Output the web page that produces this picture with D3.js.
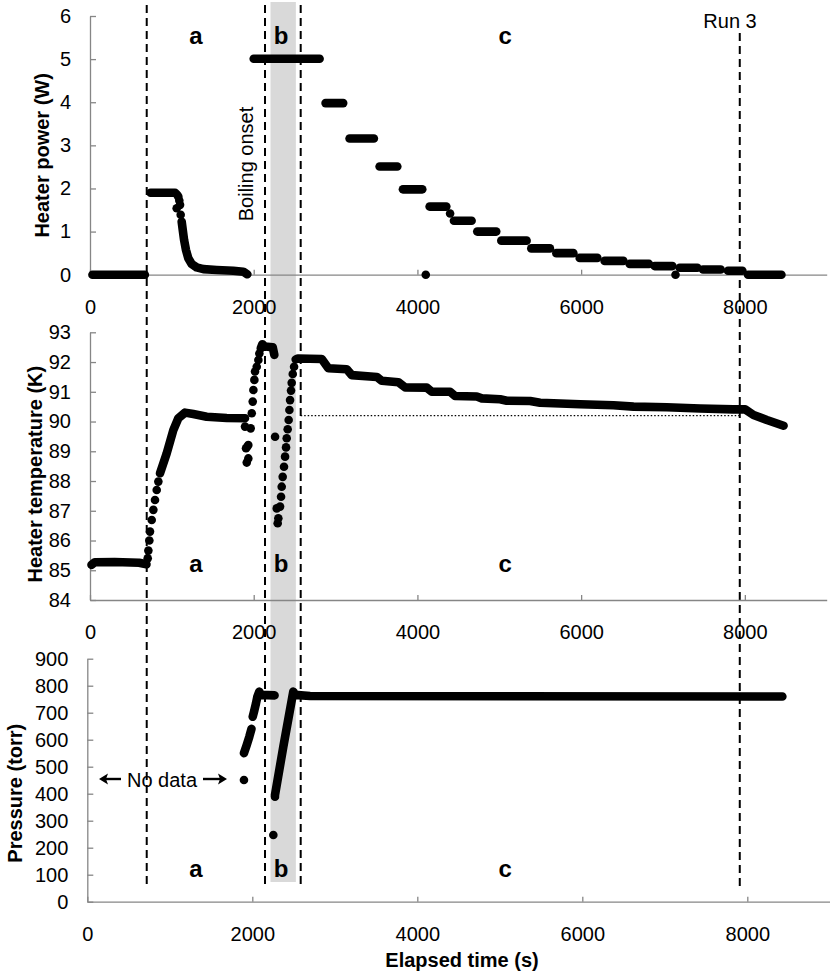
<!DOCTYPE html>
<html>
<head>
<meta charset="utf-8">
<script src="https://cdn.jsdelivr.net/npm/d3@7"></script>
<style>
  body { margin: 0; background: #fff; }
  text { font-family: "Liberation Sans", Arial, sans-serif; }
  .axis .domain, .axis .tick line { stroke: #868686; stroke-width: 1.3; }
  .axis text { fill: #000; font-size: 20px; font-family: "Liberation Sans", Arial, sans-serif; }
</style>
</head>
<body>
<div id="chart"></div>
<script>
// ---- data ----
const timeTicks = [0, 2000, 4000, 6000, 8000]
const powerTicks = [0, 1, 2, 3, 4, 5, 6]
const tempTicks = [84, 85, 86, 87, 88, 89, 90, 91, 92, 93]
const pressTicks = [0, 100, 200, 300, 400, 500, 600, 700, 800, 900]

// phase boundaries (s): heater on, boiling onset, end of boiling, end of run 3
const phaseBounds = [693, 2138, 2574, 7938]
const boilBand = [2205, 2515]
const phaseLabels = [
  { text: 'a', t: 1295 },
  { text: 'b', t: 2334 },
  { text: 'c', t: 5071 }
]
const refTemp = 90.2

// heater power (W): dense stretches drawn as runs, loose samples as dots
const powerRuns = [
  [[30, 0], [670, 0]],
  [[740, 1.9], [1040, 1.9], [1062, 1.86]],
  [[1120, 1.23], [1133, 1.04], [1149, 0.81], [1173, 0.57], [1201, 0.38], [1242, 0.25],
   [1303, 0.17], [1385, 0.13], [1548, 0.11], [1751, 0.09], [1873, 0.07], [1922, 0.01]],
  [[2000, 5.01], [2805, 5.01]],
  [[2878, 3.98], [3093, 3.98]],
  [[3171, 3.16], [3468, 3.16]],
  [[3538, 2.51], [3754, 2.51]],
  [[3823, 1.98], [4059, 1.98]],
  [[4149, 1.58], [4353, 1.58]],
  [[4446, 1.25], [4662, 1.25]],
  [[4731, 1.0], [4963, 1.0]],
  [[5025, 0.79], [5334, 0.79]],
  [[5391, 0.61], [5619, 0.61]],
  [[5697, 0.5], [5905, 0.5]],
  [[5982, 0.39], [6198, 0.39]],
  [[6287, 0.32], [6516, 0.32]],
  [[6593, 0.25], [6829, 0.25]],
  [[6898, 0.2], [7115, 0.2]],
  [[7204, 0.16], [7420, 0.16]],
  [[7489, 0.12], [7705, 0.12]],
  [[7794, 0.09], [7970, 0.09]],
  [[8039, 0], [8447, 0]]
]
const powerDots = [
  [1079, 1.81], [1091, 1.72], [1100, 1.62], [1059, 1.54], [1108, 1.39],
  [4399, 1.42], [4102, 0], [7153, 0]
]

// heater temperature (K)
const tempRuns = [
  [[18, 85.18], [60, 85.27], [300, 85.28], [600, 85.25], [690, 85.2]],
  [[855, 88.26], [937, 88.93], [1018, 89.71], [1079, 90.11], [1161, 90.3], [1262, 90.25],
   [1426, 90.16], [1670, 90.12], [1894, 90.11]],
  [[2086, 92.46], [2106, 92.6], [2138, 92.52], [2232, 92.5], [2252, 92.24]],
  [[2513, 92.09], [2540, 92.12], [2831, 92.1], [2912, 91.79], [3137, 91.76], [3198, 91.56],
   [3504, 91.5], [3565, 91.37], [3768, 91.32], [3850, 91.15], [4114, 91.14], [4175, 91.0],
   [4399, 91.0], [4460, 90.86], [4725, 90.84], [4786, 90.78], [5010, 90.75], [5092, 90.7],
   [5377, 90.69], [5499, 90.63], [5825, 90.6], [5988, 90.58], [6396, 90.55], [6640, 90.5],
   [7047, 90.48], [7454, 90.44], [7861, 90.41], [8004, 90.41], [8106, 90.22], [8269, 90.05],
   [8473, 89.86]]
]
const tempDots = [
  [705, 85.4], [713, 85.66], [725, 86.0], [733, 86.3], [754, 86.69], [774, 87.03],
  [794, 87.36], [815, 87.7], [835, 87.98],
  [1894, 89.83], [1963, 89.77], [1934, 89.21], [1906, 89.1], [1920, 89.15],
  [1934, 88.76], [1915, 88.62],
  [1976, 90.28], [1988, 90.67], [1996, 91.06], [2008, 91.4], [2016, 91.68],
  [2037, 91.84], [2057, 92.07], [2069, 92.29],
  [2261, 89.49],
  [2281, 87.08], [2293, 86.58], [2301, 86.75], [2322, 87.14], [2334, 87.47],
  [2342, 87.81], [2354, 88.14], [2370, 88.48], [2383, 88.82], [2395, 89.13],
  [2403, 89.44], [2415, 89.74], [2427, 90.05], [2436, 90.39], [2444, 90.72],
  [2456, 91.04], [2464, 91.3], [2477, 91.6], [2493, 91.84]
]

// pressure (torr)
const pressRuns = [
  [[1899, 550], [1932, 580], [1964, 611], [1990, 640]],
  [[2005, 685], [2021, 704], [2045, 735], [2061, 759], [2085, 778], [2105, 766], [2270, 764]],
  [[2275, 395], [2376, 574], [2497, 778], [2518, 766], [2700, 762], [8425, 760]]
]
const pressDots = [[1899, 451], [2255, 247], [2275, 389]]

// ---- layout ----
const W = 830
const H = 979
const R = 4.3

const svg = d3
  .select('#chart')
  .append('svg')
  .attr('width', W)
  .attr('height', H)

const panels = [
  {
    x: d3.scaleLinear().domain([0, 9000]).range([90, 826.7]),
    y: d3.scaleLinear().domain([0, 6]).range([274.7, 16]),
    ticks: powerTicks, runs: powerRuns, dots: powerDots,
    title: 'Heater power (W)', titleX: 41.7, titleShift: 10, labelY: 44
  },
  {
    x: d3.scaleLinear().domain([0, 9000]).range([90, 826.7]),
    y: d3.scaleLinear().domain([84, 93]).range([600, 332.3]),
    ticks: tempTicks, runs: tempRuns, dots: tempDots,
    title: 'Heater temperature (K)', titleX: 35, titleShift: 8, labelY: 571.7
  },
  {
    x: d3.scaleLinear().domain([0, 9000]).range([87.3, 829.8]),
    y: d3.scaleLinear().domain([0, 900]).range([901.7, 658.7]),
    ticks: pressTicks, runs: pressRuns, dots: pressDots,
    title: 'Pressure (torr)', titleX: 15, titleShift: 13, labelY: 877
  }
]
const xTop = panels[0].x

// grey boiling band behind everything
svg
  .append('rect')
  .attr('x', xTop(boilBand[0]))
  .attr('width', xTop(boilBand[1]) - xTop(boilBand[0]))
  .attr('y', 2)
  .attr('height', 880)
  .attr('fill', '#d9d9d9')

// dashed phase boundaries running through all three panels
svg
  .selectAll('.phase')
  .data(phaseBounds)
  .enter()
  .append('line')
  .attr('class', 'phase')
  .attr('x1', d => xTop(d))
  .attr('x2', d => xTop(d))
  .attr('y1', (d, i) => (i === 3 ? 33 : 5))
  .attr('y2', 888)
  .attr('stroke', '#000')
  .attr('stroke-width', 2)
  .attr('stroke-dasharray', '8,5')

panels.forEach(p => {
  const g = svg.append('g')
  const [y0] = p.y.range()

  g.append('g')
    .attr('class', 'axis')
    .attr('transform', `translate(0,${y0})`)
    .call(
      d3.axisBottom(p.x)
        .tickValues(timeTicks)
        .tickSizeInner(-5)
        .tickSizeOuter(0)
        .tickPadding(25)
        .tickFormat(d3.format('d'))
    )

  g.append('g')
    .attr('class', 'axis')
    .attr('transform', `translate(${p.x.range()[0]},0)`)
    .call(
      d3.axisLeft(p.y)
        .tickValues(p.ticks)
        .tickSizeInner(-6)
        .tickSizeOuter(0)
        .tickPadding(19)
        .tickFormat(d3.format('d'))
    )

  const yMid = (p.y.range()[0] + p.y.range()[1]) / 2
  g.append('text')
    .text(p.title)
    .attr('transform', `translate(${p.titleX},${yMid + p.titleShift}) rotate(-90)`)
    .attr('text-anchor', 'middle')
    .attr('dominant-baseline', 'central')
    .attr('font-weight', 'bold')
    .attr('font-size', 20)

  const line = d3.line().x(d => p.x(d[0])).y(d => p.y(d[1]))
  g.selectAll('.run')
    .data(p.runs)
    .enter()
    .append('path')
    .attr('d', line)
    .attr('fill', 'none')
    .attr('stroke', '#000')
    .attr('stroke-width', 2 * R)
    .attr('stroke-linecap', 'round')
    .attr('stroke-linejoin', 'round')

  g.selectAll('.dot')
    .data(p.dots)
    .enter()
    .append('circle')
    .attr('cx', d => p.x(d[0]))
    .attr('cy', d => p.y(d[1]))
    .attr('r', R)
    .attr('fill', '#000')

  g.selectAll('.phaseLabel')
    .data(phaseLabels)
    .enter()
    .append('text')
    .text(d => d.text)
    .attr('x', d => xTop(d.t))
    .attr('y', p.labelY)
    .attr('text-anchor', 'middle')
    .attr('font-weight', 'bold')
    .attr('font-size', 24)
})

// dotted reference temperature during run 3
const pT = panels[1]
svg
  .append('line')
  .attr('x1', xTop(phaseBounds[2]))
  .attr('x2', xTop(phaseBounds[3]))
  .attr('y1', pT.y(refTemp))
  .attr('y2', pT.y(refTemp))
  .attr('stroke', '#000')
  .attr('stroke-width', 1.4)
  .attr('stroke-dasharray', '1.5,2')

// x axis title
svg
  .append('text')
  .text('Elapsed time (s)')
  .attr('x', 462)
  .attr('y', 967)
  .attr('text-anchor', 'middle')
  .attr('font-weight', 'bold')
  .attr('font-size', 20)

// annotations
svg
  .append('text')
  .text('Run 3')
  .attr('x', 730)
  .attr('y', 28)
  .attr('text-anchor', 'middle')
  .attr('font-size', 20)

svg
  .append('text')
  .text('Boiling onset')
  .attr('transform', 'translate(246,164) rotate(-90)')
  .attr('text-anchor', 'middle')
  .attr('dominant-baseline', 'central')
  .attr('font-family', 'Lato, "Open Sans", sans-serif')
  .attr('font-size', 20)

// "No data" with two arrows
const noDataY = 779
const arrows = [
  { from: 121, tip: 99 },
  { from: 203, tip: 227 }
]
arrows.forEach(a => {
  const dir = a.tip > a.from ? 1 : -1
  svg.append('line')
    .attr('x1', a.from).attr('x2', a.tip - dir * 6)
    .attr('y1', noDataY).attr('y2', noDataY)
    .attr('stroke', '#000').attr('stroke-width', 2.4)
  svg.append('path')
    .attr('d', `M${a.tip},${noDataY}L${a.tip - dir * 9},${noDataY - 5.5}L${a.tip - dir * 7},${noDataY}L${a.tip - dir * 9},${noDataY + 5.5}Z`)
    .attr('fill', '#000')
})
svg
  .append('text')
  .text('No data')
  .attr('x', 162)
  .attr('y', 786.5)
  .attr('text-anchor', 'middle')
  .attr('font-size', 20)
</script>
</body>
</html>
